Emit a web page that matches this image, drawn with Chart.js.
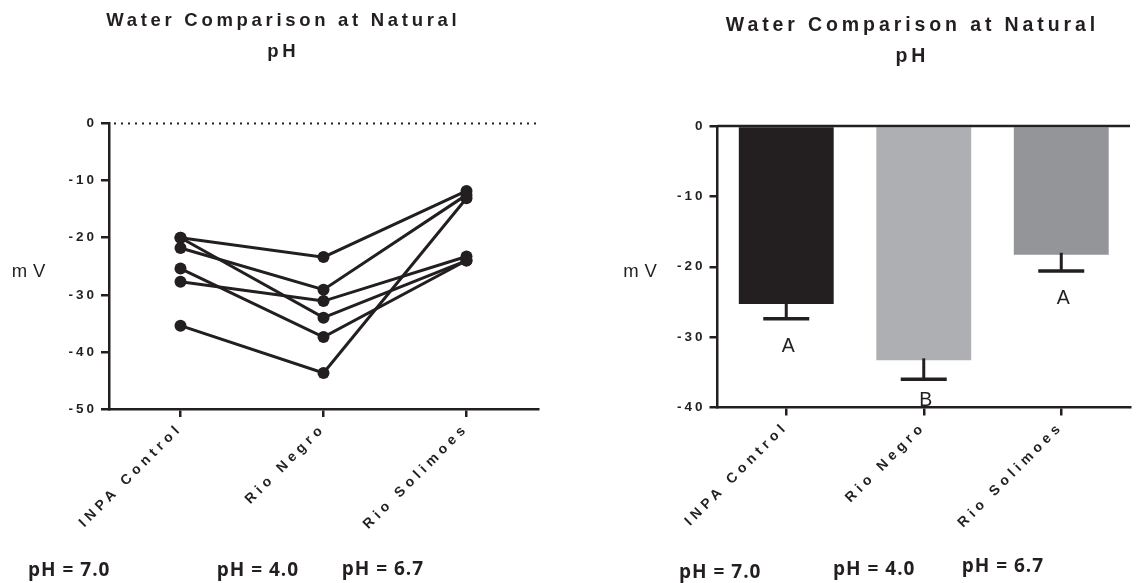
<!DOCTYPE html>
<html><head><meta charset="utf-8">
<script src="https://cdn.jsdelivr.net/npm/chart.js"></script>
<style>
html,body{margin:0;padding:0;background:#fff;width:1137px;height:583px;overflow:hidden}
#c1{position:absolute;left:0;top:0}
#c2{position:absolute;left:563px;top:0}
</style></head><body>
<canvas id="c1" width="563" height="583"></canvas>
<canvas id="c2" width="574" height="583"></canvas>
<script>
// ---------- data ----------
const categories = ['INPA Control', 'Rio Negro', 'Rio Solimoes'];
const phLabels = ['pH = 7.0', 'pH = 4.0', 'pH = 6.7'];
const titleLines = ['Water Comparison at Natural', 'pH'];
const yAxisLabel = 'mV';

// paired measurements (left panel), one array per sample
const sample1 = [-20.0, -23.4, -11.8];
const sample2 = [-20.0, -34.0, -24.0];
const sample3 = [-21.8, -29.1, -12.5];
const sample4 = [-25.4, -37.4, -24.0];
const sample5 = [-27.7, -31.1, -23.3];
const sample6 = [-35.4, -43.7, -13.1];

// means and SEM (right panel)
const barMeans = [-25.3, -33.3, -18.3];
const barSem = [2.1, 2.7, 2.3];
const groupLetters = ['A', 'B', 'A'];

// axis ranges / ticks
const lineAxis = {min: -50, max: 0, step: 10};
const barAxis = {min: -40, max: 0, step: 10};

// ---------- styling ----------
const INK = '#231f20';
const barColors = ['#231f20', '#aeafb2', '#939598'];
const AXIS_W = 2.5;

const deco1 = {
  title: {x: 281.5, ys: [26, 57], font: 'bold 18.5px "Liberation Sans"', ls: 3.7},
  yTitle: {x: 28.5, y: 277, font: '18.5px "Liberation Sans"', ls: 6},
  ph: {xs: [28, 216.7, 341.7], ys: [576, 576, 575], font: 'bold 19px "Open Sans"', ls: 1}
};
const deco2 = {
  title: {x: 347.5, ys: [31, 61.5], font: 'bold 19.5px "Liberation Sans"', ls: 3.9},
  yTitle: {x: 77, y: 277, font: '18.5px "Liberation Sans"', ls: 6},
  ph: {xs: [116, 270, 398.7], ys: [578.3, 575, 571.7], font: 'bold 19px "Open Sans"', ls: 1}
};

function drawText(ctx, text, x, y, font, ls, align) {
  ctx.save();
  ctx.font = font;
  try { ctx.letterSpacing = ls + 'px'; } catch (e) {}
  ctx.fillStyle = INK;
  ctx.textAlign = align;
  ctx.textBaseline = 'alphabetic';
  const dx = align === 'center' ? ls / 2 : 0;
  ctx.fillText(text, x + dx, y);
  ctx.restore();
}

// letter spacing for tick labels
const lsPlugin = {
  id: 'tickSpacing',
  beforeDraw(chart, args, opts) {
    Object.values(chart.scales).forEach(s => {
      if (s._lsPatched) return;
      const orig = s.drawLabels.bind(s);
      const ls = (opts && opts[s.id]) || 0;
      s.drawLabels = function (ca) {
        const c = this.ctx;
        c.save();
        try { c.letterSpacing = ls + 'px'; } catch (e) {}
        orig(ca);
        c.restore();
      };
      s._lsPatched = true;
    });
  }
};

const decoPlugin = {
  id: 'deco',
  afterDraw(chart, args, d) {
    const ctx = chart.ctx;
    titleLines.forEach((t, i) => drawText(ctx, t, d.title.x, d.title.ys[i], d.title.font, d.title.ls, 'center'));
    drawText(ctx, yAxisLabel, d.yTitle.x, d.yTitle.y, d.yTitle.font, d.yTitle.ls, 'center');
    phLabels.forEach((t, i) => drawText(ctx, t, d.ph.xs[i], d.ph.ys[i], d.ph.font, d.ph.ls, 'left'));
  }
};

const zeroDotted = {
  id: 'zeroDotted',
  beforeDatasetsDraw(chart) {
    const ctx = chart.ctx, ca = chart.chartArea;
    const y = chart.scales.y.getPixelForValue(0);
    ctx.save();
    ctx.strokeStyle = INK;
    ctx.lineWidth = 2;
    ctx.setLineDash([2, 5]);
    ctx.beginPath();
    ctx.moveTo(ca.left + 5, y);
    ctx.lineTo(ca.right, y);
    ctx.stroke();
    ctx.restore();
  }
};

const barExtras = {
  id: 'barExtras',
  afterDatasetsDraw(chart) {
    const ctx = chart.ctx, ca = chart.chartArea, ys = chart.scales.y;
    const meta = chart.getDatasetMeta(0);
    const y0 = ys.getPixelForValue(0);
    ctx.save();
    ctx.strokeStyle = INK;
    ctx.lineWidth = AXIS_W;
    ctx.beginPath();
    ctx.moveTo(ca.left, y0);
    ctx.lineTo(ca.right, y0);
    ctx.stroke();
    meta.data.forEach((bar, i) => {
      const x = bar.x;
      const yTop = ys.getPixelForValue(barMeans[i]);
      const yEnd = ys.getPixelForValue(barMeans[i] - barSem[i]);
      ctx.lineWidth = 3;
      ctx.beginPath();
      ctx.moveTo(x, yTop - 2);
      ctx.lineTo(x, yEnd);
      ctx.stroke();
      ctx.lineWidth = 3.5;
      ctx.beginPath();
      ctx.moveTo(x - 23, yEnd);
      ctx.lineTo(x + 23, yEnd);
      ctx.stroke();
      const base = Math.min(yEnd + 33, ca.bottom - 2);
      ctx.fillStyle = INK;
      ctx.font = '19.5px "Liberation Sans"';
      ctx.textAlign = 'center';
      ctx.textBaseline = 'alphabetic';
      ctx.fillText(groupLetters[i], x + 2, base);
    });
    ctx.restore();
  }
};

function axes(range, pad) {
  return {
    x: {
      type: 'category',
      offset: true,
      grid: {display: true, drawOnChartArea: false, drawTicks: true, offset: false,
             tickLength: 8, lineWidth: AXIS_W, color: INK},
      border: {display: true, width: AXIS_W, color: INK},
      ticks: {color: INK, minRotation: 45, maxRotation: 45, autoSkip: false, padding: 3,
              font: {family: '"Liberation Sans"', size: 14, weight: 'bold'}},
      afterFit(s) { s.height = pad.xh; }
    },
    y: {
      min: range.min, max: range.max,
      grid: {display: true, drawOnChartArea: false, drawTicks: true,
             tickLength: 8, lineWidth: AXIS_W, color: INK},
      border: {display: true, width: AXIS_W, color: INK},
      ticks: {color: INK, stepSize: range.step, padding: 4,
              font: {family: '"Liberation Sans"', size: 13.5, weight: 'bold'}},
      afterFit(s) { s.width = 60; }
    }
  };
}

const commonPlugins = {legend: {display: false}, tooltip: {enabled: false}, title: {display: false}};

// left panel: paired lines
const samples = [sample1, sample2, sample3, sample4, sample5, sample6];
new Chart(document.getElementById('c1'), {
  type: 'line',
  data: {
    labels: categories,
    datasets: samples.map(s => ({
      data: s, borderColor: INK, backgroundColor: INK, borderWidth: 3,
      pointRadius: 6, pointBackgroundColor: INK, pointBorderWidth: 0, tension: 0, fill: false
    }))
  },
  options: {
    responsive: false, animation: false, events: [],
    layout: {padding: {left: 49, right: 25, top: 123.5, bottom: 0}},
    scales: axes(lineAxis, {xh: 174}),
    plugins: Object.assign({}, commonPlugins, {deco: deco1, tickSpacing: {x: 4.5, y: 3}})
  },
  plugins: [lsPlugin, zeroDotted, decoPlugin]
});

// right panel: bars with SEM
new Chart(document.getElementById('c2'), {
  type: 'bar',
  data: {
    labels: categories,
    datasets: [{data: barMeans, backgroundColor: barColors, borderWidth: 0,
                categoryPercentage: 1, barPercentage: 0.69}]
  },
  options: {
    responsive: false, animation: false, events: [],
    layout: {padding: {left: 94.5, right: 7, top: 126, bottom: 0}},
    scales: axes(barAxis, {xh: 175.5}),
    plugins: Object.assign({}, commonPlugins, {deco: deco2, tickSpacing: {x: 4.5, y: 3}})
  },
  plugins: [lsPlugin, barExtras, decoPlugin]
});
</script>
</body></html>
